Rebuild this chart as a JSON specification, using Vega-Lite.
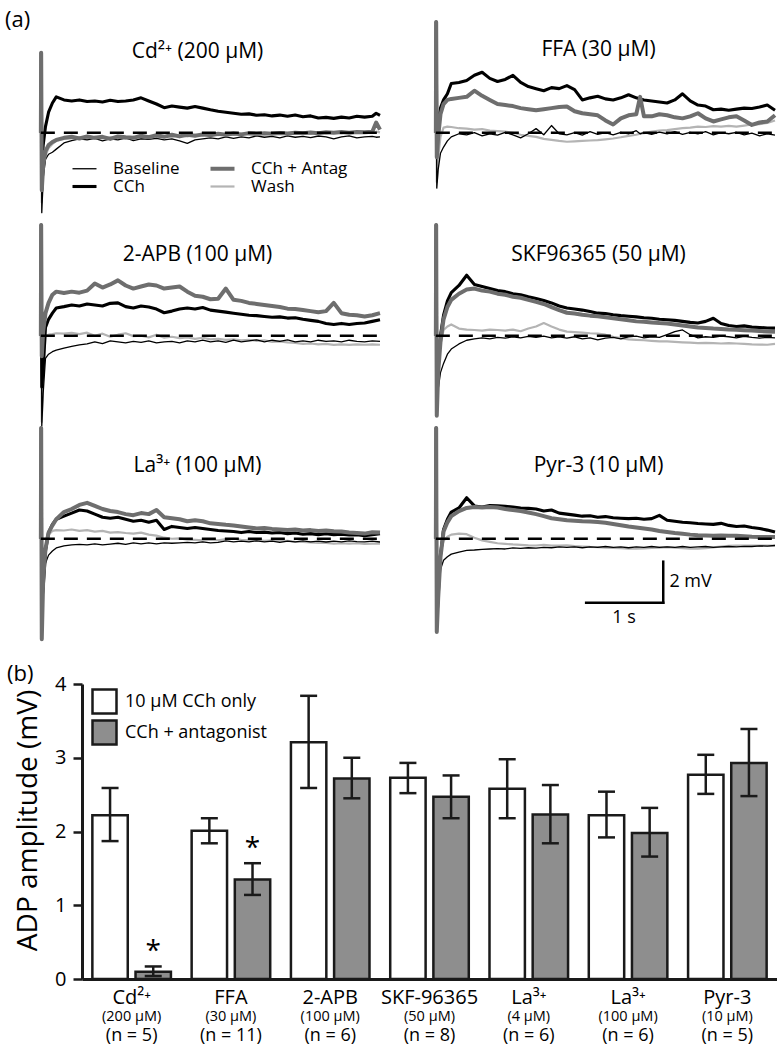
{
  "$schema": "https://vega.github.io/schema/vega-lite/v6.json",
  "padding": {"left": 0, "top": 9, "right": 0, "bottom": 0},
  "background": "white",
  "config": {
    "font": "Open Sans",
    "view": {"stroke": null},
    "title": {"font": "Open Sans", "fontWeight": "normal", "color": "#000"},
    "axis": {"labelFont": "Open Sans", "titleFont": "Open Sans", "labelColor": "#000", "titleColor": "#000"},
    "legend": {"labelFont": "Open Sans", "labelColor": "#000"},
    "text": {"font": "Open Sans", "color": "#000"}
  },
  "datasets": {
    "traces": [
      {"p":"Cd","t":0,"C":0,"B":0,"A":0,"W":0},
      {"p":"Cd","t":0.004,"C":3.9,"B":3.9,"A":3.9,"W":3.9},
      {"p":"Cd","t":0.012,"C":-1.8,"B":-3.9,"A":-2.8,"W":-3.4},
      {"p":"Cd","t":0.03,"C":-0.6,"B":-2.2,"A":-1.6,"W":-1.9},
      {"p":"Cd","t":0.06,"C":0.3,"B":-1.3,"A":-0.9,"W":-1.1},
      {"p":"Cd","t":0.1,"C":1.0,"B":-1.05,"A":-0.6,"W":-0.75},
      {"p":"Cd","t":0.15,"C":1.45,"B":-0.95,"A":-0.45,"W":-0.55},
      {"p":"Cd","t":0.2,"C":1.75,"B":-0.8,"A":-0.35,"W":-0.4},
      {"p":"Cd","t":0.3,"C":1.6,"B":-0.5,"A":-0.25,"W":-0.3},
      {"p":"Cd","t":0.4,"C":1.55,"B":-0.38,"A":-0.2,"W":-0.28},
      {"p":"Cd","t":0.5,"C":1.6,"B":-0.3,"A":-0.28,"W":-0.22},
      {"p":"Cd","t":0.6,"C":1.52,"B":-0.35,"A":-0.18,"W":-0.3},
      {"p":"Cd","t":0.7,"C":1.55,"B":-0.28,"A":-0.25,"W":-0.2},
      {"p":"Cd","t":0.8,"C":1.5,"B":-0.4,"A":-0.2,"W":-0.28},
      {"p":"Cd","t":0.9,"C":1.58,"B":-0.3,"A":-0.3,"W":-0.22},
      {"p":"Cd","t":1.0,"C":1.52,"B":-0.35,"A":-0.18,"W":-0.25},
      {"p":"Cd","t":1.1,"C":1.55,"B":-0.25,"A":-0.22,"W":-0.3},
      {"p":"Cd","t":1.2,"C":1.6,"B":-0.38,"A":-0.25,"W":-0.2},
      {"p":"Cd","t":1.3,"C":1.7,"B":-0.3,"A":-0.15,"W":-0.25},
      {"p":"Cd","t":1.4,"C":1.55,"B":-0.32,"A":-0.22,"W":-0.18},
      {"p":"Cd","t":1.5,"C":1.4,"B":-0.28,"A":-0.12,"W":-0.22},
      {"p":"Cd","t":1.6,"C":1.22,"B":-0.35,"A":-0.2,"W":-0.15},
      {"p":"Cd","t":1.7,"C":1.3,"B":-0.3,"A":-0.1,"W":-0.2},
      {"p":"Cd","t":1.8,"C":1.25,"B":-0.4,"A":-0.18,"W":-0.12},
      {"p":"Cd","t":1.9,"C":1.2,"B":-0.52,"A":-0.1,"W":-0.18},
      {"p":"Cd","t":2.0,"C":1.28,"B":-0.35,"A":-0.15,"W":-0.1},
      {"p":"Cd","t":2.1,"C":1.2,"B":-0.3,"A":-0.08,"W":-0.15},
      {"p":"Cd","t":2.2,"C":1.12,"B":-0.25,"A":-0.12,"W":-0.1},
      {"p":"Cd","t":2.3,"C":1.05,"B":-0.3,"A":-0.05,"W":-0.12},
      {"p":"Cd","t":2.4,"C":1.0,"B":-0.2,"A":-0.1,"W":-0.06},
      {"p":"Cd","t":2.5,"C":0.95,"B":-0.28,"A":-0.04,"W":-0.1},
      {"p":"Cd","t":2.6,"C":0.9,"B":-0.2,"A":-0.08,"W":-0.05},
      {"p":"Cd","t":2.7,"C":0.92,"B":-0.25,"A":-0.02,"W":-0.08},
      {"p":"Cd","t":2.8,"C":0.85,"B":-0.15,"A":-0.06,"W":-0.03},
      {"p":"Cd","t":2.9,"C":0.88,"B":-0.22,"A":-0.02,"W":-0.07},
      {"p":"Cd","t":3.0,"C":0.82,"B":-0.18,"A":-0.05,"W":-0.02},
      {"p":"Cd","t":3.1,"C":0.86,"B":-0.25,"A":-0.01,"W":-0.06},
      {"p":"Cd","t":3.2,"C":0.8,"B":-0.15,"A":-0.04,"W":-0.02},
      {"p":"Cd","t":3.3,"C":0.86,"B":-0.22,"A":0.0,"W":-0.05},
      {"p":"Cd","t":3.4,"C":0.78,"B":-0.18,"A":-0.03,"W":0.0},
      {"p":"Cd","t":3.5,"C":0.82,"B":-0.24,"A":0.01,"W":-0.04},
      {"p":"Cd","t":3.6,"C":0.72,"B":-0.16,"A":-0.02,"W":0.0},
      {"p":"Cd","t":3.7,"C":0.75,"B":-0.2,"A":0.02,"W":-0.03},
      {"p":"Cd","t":3.8,"C":0.7,"B":-0.3,"A":0.0,"W":0.01},
      {"p":"Cd","t":3.9,"C":0.76,"B":-0.2,"A":0.03,"W":-0.02},
      {"p":"Cd","t":4.0,"C":0.72,"B":-0.15,"A":0.0,"W":0.02},
      {"p":"Cd","t":4.1,"C":0.8,"B":-0.25,"A":0.04,"W":0.0},
      {"p":"Cd","t":4.2,"C":0.76,"B":-0.2,"A":0.02,"W":0.03},
      {"p":"Cd","t":4.3,"C":0.8,"B":-0.18,"A":0.05,"W":0.0},
      {"p":"Cd","t":4.35,"C":0.95,"B":-0.22,"A":0.5,"W":0.05},
      {"p":"Cd","t":4.4,"C":0.85,"B":-0.2,"A":0.15,"W":0.02},

      {"p":"FFA","t":0,"C":0,"B":0,"A":0,"W":0},
      {"p":"FFA","t":0.004,"C":5.4,"B":5.4,"A":5.4,"W":5.4},
      {"p":"FFA","t":0.012,"C":-0.8,"B":-2.7,"A":-1.2,"W":-2.4},
      {"p":"FFA","t":0.03,"C":0.2,"B":-1.8,"A":-0.2,"W":-1.2},
      {"p":"FFA","t":0.06,"C":1.2,"B":-1.0,"A":0.9,"W":-0.2},
      {"p":"FFA","t":0.1,"C":1.6,"B":-0.7,"A":1.4,"W":0.25},
      {"p":"FFA","t":0.15,"C":1.9,"B":-0.4,"A":1.6,"W":0.3},
      {"p":"FFA","t":0.2,"C":2.4,"B":-0.2,"A":1.65,"W":0.28},
      {"p":"FFA","t":0.3,"C":2.45,"B":-0.05,"A":1.7,"W":0.22},
      {"p":"FFA","t":0.4,"C":2.55,"B":-0.1,"A":1.75,"W":0.2},
      {"p":"FFA","t":0.5,"C":2.8,"B":0.0,"A":2.05,"W":0.15},
      {"p":"FFA","t":0.6,"C":2.95,"B":-0.15,"A":1.8,"W":0.18},
      {"p":"FFA","t":0.7,"C":2.65,"B":-0.05,"A":1.6,"W":0.1},
      {"p":"FFA","t":0.8,"C":2.5,"B":-0.12,"A":1.4,"W":0.08},
      {"p":"FFA","t":0.9,"C":2.6,"B":0.02,"A":1.35,"W":0.05},
      {"p":"FFA","t":1.0,"C":2.8,"B":-0.1,"A":1.3,"W":0.0},
      {"p":"FFA","t":1.1,"C":2.45,"B":-0.25,"A":1.2,"W":-0.1},
      {"p":"FFA","t":1.2,"C":2.25,"B":-0.05,"A":1.15,"W":-0.15},
      {"p":"FFA","t":1.3,"C":2.15,"B":0.2,"A":1.1,"W":-0.2},
      {"p":"FFA","t":1.4,"C":2.05,"B":-0.1,"A":1.15,"W":-0.3},
      {"p":"FFA","t":1.5,"C":2.2,"B":0.35,"A":1.2,"W":-0.35},
      {"p":"FFA","t":1.6,"C":2.15,"B":-0.05,"A":1.25,"W":-0.4},
      {"p":"FFA","t":1.7,"C":2.3,"B":-0.1,"A":1.28,"W":-0.44},
      {"p":"FFA","t":1.8,"C":2.1,"B":0.0,"A":1.05,"W":-0.42},
      {"p":"FFA","t":1.9,"C":1.6,"B":-0.12,"A":0.95,"W":-0.4},
      {"p":"FFA","t":2.0,"C":1.7,"B":0.05,"A":0.9,"W":-0.38},
      {"p":"FFA","t":2.1,"C":1.78,"B":-0.08,"A":0.85,"W":-0.36},
      {"p":"FFA","t":2.2,"C":1.65,"B":0.0,"A":0.6,"W":-0.32},
      {"p":"FFA","t":2.3,"C":1.6,"B":-0.1,"A":0.4,"W":-0.28},
      {"p":"FFA","t":2.4,"C":1.7,"B":0.02,"A":0.7,"W":-0.22},
      {"p":"FFA","t":2.5,"C":1.85,"B":-0.06,"A":0.85,"W":-0.15},
      {"p":"FFA","t":2.6,"C":1.7,"B":0.1,"A":0.9,"W":-0.1},
      {"p":"FFA","t":2.65,"C":1.65,"B":-0.05,"A":1.75,"W":-0.05},
      {"p":"FFA","t":2.7,"C":1.6,"B":0.0,"A":0.8,"W":-0.02},
      {"p":"FFA","t":2.8,"C":1.55,"B":-0.08,"A":0.8,"W":0.05},
      {"p":"FFA","t":2.9,"C":1.5,"B":0.03,"A":0.9,"W":0.1},
      {"p":"FFA","t":3.0,"C":1.45,"B":-0.05,"A":0.85,"W":0.13},
      {"p":"FFA","t":3.1,"C":1.6,"B":0.05,"A":0.75,"W":0.18},
      {"p":"FFA","t":3.2,"C":1.9,"B":-0.08,"A":0.7,"W":0.22},
      {"p":"FFA","t":3.3,"C":1.55,"B":0.02,"A":0.8,"W":0.25},
      {"p":"FFA","t":3.4,"C":1.35,"B":-0.06,"A":0.95,"W":0.3},
      {"p":"FFA","t":3.5,"C":1.3,"B":0.05,"A":0.7,"W":0.28},
      {"p":"FFA","t":3.6,"C":1.12,"B":-0.1,"A":0.55,"W":0.32},
      {"p":"FFA","t":3.7,"C":1.15,"B":0.0,"A":0.65,"W":0.3},
      {"p":"FFA","t":3.8,"C":1.1,"B":-0.05,"A":0.75,"W":0.33},
      {"p":"FFA","t":3.9,"C":1.15,"B":0.02,"A":0.8,"W":0.3},
      {"p":"FFA","t":4.0,"C":1.2,"B":-0.1,"A":0.6,"W":0.35},
      {"p":"FFA","t":4.1,"C":1.18,"B":-0.02,"A":0.38,"W":0.4},
      {"p":"FFA","t":4.2,"C":1.25,"B":-0.15,"A":0.5,"W":0.42},
      {"p":"FFA","t":4.3,"C":1.35,"B":-0.05,"A":0.55,"W":0.48},
      {"p":"FFA","t":4.4,"C":1.1,"B":-0.12,"A":0.85,"W":0.6},

      {"p":"APB","t":0,"C":0,"B":0,"A":0,"W":0},
      {"p":"APB","t":0.004,"C":5.4,"B":5.4,"A":5.4,"W":5.4},
      {"p":"APB","t":0.012,"C":-2.5,"B":-4.4,"A":-1.0,"W":-4.2},
      {"p":"APB","t":0.03,"C":-1.6,"B":-2.8,"A":0.2,"W":-1.8},
      {"p":"APB","t":0.06,"C":0.4,"B":-1.1,"A":1.1,"W":0.0},
      {"p":"APB","t":0.1,"C":0.8,"B":-0.9,"A":1.6,"W":0.05},
      {"p":"APB","t":0.15,"C":1.1,"B":-0.78,"A":2.0,"W":0.08},
      {"p":"APB","t":0.2,"C":1.35,"B":-0.7,"A":2.15,"W":0.12},
      {"p":"APB","t":0.3,"C":1.42,"B":-0.6,"A":2.08,"W":0.1},
      {"p":"APB","t":0.4,"C":1.5,"B":-0.52,"A":2.15,"W":0.14},
      {"p":"APB","t":0.5,"C":1.45,"B":-0.45,"A":2.1,"W":0.08},
      {"p":"APB","t":0.6,"C":1.55,"B":-0.4,"A":2.2,"W":0.15},
      {"p":"APB","t":0.7,"C":1.5,"B":-0.3,"A":2.55,"W":0.0},
      {"p":"APB","t":0.8,"C":1.45,"B":-0.38,"A":2.35,"W":0.1},
      {"p":"APB","t":0.9,"C":1.58,"B":-0.25,"A":2.5,"W":-0.05},
      {"p":"APB","t":1.0,"C":1.6,"B":-0.3,"A":2.7,"W":0.05},
      {"p":"APB","t":1.1,"C":1.42,"B":-0.35,"A":2.45,"W":0.12},
      {"p":"APB","t":1.2,"C":1.35,"B":-0.28,"A":2.3,"W":-0.02},
      {"p":"APB","t":1.3,"C":1.45,"B":-0.32,"A":2.4,"W":0.0},
      {"p":"APB","t":1.4,"C":1.4,"B":-0.25,"A":2.5,"W":-0.08},
      {"p":"APB","t":1.5,"C":1.3,"B":-0.35,"A":2.45,"W":0.05},
      {"p":"APB","t":1.6,"C":1.12,"B":-0.3,"A":2.3,"W":-0.1},
      {"p":"APB","t":1.7,"C":1.2,"B":-0.28,"A":2.35,"W":-0.05},
      {"p":"APB","t":1.8,"C":1.3,"B":-0.35,"A":2.4,"W":-0.12},
      {"p":"APB","t":1.9,"C":1.35,"B":-0.25,"A":2.15,"W":-0.08},
      {"p":"APB","t":2.0,"C":1.3,"B":-0.3,"A":1.95,"W":-0.15},
      {"p":"APB","t":2.1,"C":1.38,"B":-0.22,"A":1.9,"W":-0.1},
      {"p":"APB","t":2.2,"C":1.25,"B":-0.3,"A":1.78,"W":-0.18},
      {"p":"APB","t":2.3,"C":1.2,"B":-0.25,"A":1.8,"W":-0.15},
      {"p":"APB","t":2.4,"C":1.15,"B":-0.32,"A":2.3,"W":-0.2},
      {"p":"APB","t":2.5,"C":1.1,"B":-0.22,"A":1.75,"W":-0.18},
      {"p":"APB","t":2.6,"C":1.05,"B":-0.3,"A":1.7,"W":-0.22},
      {"p":"APB","t":2.7,"C":1.0,"B":-0.25,"A":1.6,"W":-0.2},
      {"p":"APB","t":2.8,"C":0.98,"B":-0.2,"A":1.55,"W":-0.25},
      {"p":"APB","t":2.9,"C":0.94,"B":-0.3,"A":1.5,"W":-0.22},
      {"p":"APB","t":3.0,"C":0.9,"B":-0.22,"A":1.45,"W":-0.3},
      {"p":"APB","t":3.1,"C":0.92,"B":-0.28,"A":1.4,"W":-0.28},
      {"p":"APB","t":3.2,"C":0.86,"B":-0.2,"A":1.32,"W":-0.32},
      {"p":"APB","t":3.3,"C":0.88,"B":-0.3,"A":1.3,"W":-0.35},
      {"p":"APB","t":3.4,"C":0.8,"B":-0.25,"A":1.25,"W":-0.4},
      {"p":"APB","t":3.5,"C":0.75,"B":-0.3,"A":1.2,"W":-0.38},
      {"p":"APB","t":3.6,"C":0.7,"B":-0.22,"A":1.15,"W":-0.42},
      {"p":"APB","t":3.7,"C":0.6,"B":-0.28,"A":1.2,"W":-0.4},
      {"p":"APB","t":3.8,"C":0.55,"B":-0.25,"A":1.6,"W":-0.45},
      {"p":"APB","t":3.9,"C":0.6,"B":-0.3,"A":1.1,"W":-0.42},
      {"p":"APB","t":4.0,"C":0.55,"B":-0.22,"A":1.02,"W":-0.45},
      {"p":"APB","t":4.1,"C":0.6,"B":-0.28,"A":1.0,"W":-0.42},
      {"p":"APB","t":4.2,"C":0.62,"B":-0.3,"A":0.94,"W":-0.44},
      {"p":"APB","t":4.3,"C":0.7,"B":-0.25,"A":1.0,"W":-0.42},
      {"p":"APB","t":4.4,"C":0.78,"B":-0.28,"A":1.1,"W":-0.44},

      {"p":"SKF","t":0,"C":0,"B":0,"A":0,"W":0},
      {"p":"SKF","t":0.004,"C":5.4,"B":5.4,"A":5.4,"W":5.4},
      {"p":"SKF","t":0.012,"C":-3.0,"B":-3.9,"A":-3.9,"W":-3.5},
      {"p":"SKF","t":0.03,"C":-1.5,"B":-2.6,"A":-1.8,"W":-1.6},
      {"p":"SKF","t":0.06,"C":0.0,"B":-1.8,"A":-0.3,"W":-0.4},
      {"p":"SKF","t":0.1,"C":1.0,"B":-1.35,"A":0.8,"W":0.28},
      {"p":"SKF","t":0.15,"C":1.7,"B":-0.9,"A":1.4,"W":0.45},
      {"p":"SKF","t":0.2,"C":2.1,"B":-0.65,"A":1.75,"W":0.55},
      {"p":"SKF","t":0.3,"C":2.45,"B":-0.4,"A":2.05,"W":0.35},
      {"p":"SKF","t":0.4,"C":2.95,"B":-0.22,"A":2.25,"W":0.3},
      {"p":"SKF","t":0.5,"C":2.5,"B":-0.15,"A":2.3,"W":0.28},
      {"p":"SKF","t":0.6,"C":2.4,"B":-0.1,"A":2.2,"W":0.25},
      {"p":"SKF","t":0.7,"C":2.3,"B":-0.15,"A":2.15,"W":0.3},
      {"p":"SKF","t":0.8,"C":2.2,"B":-0.08,"A":2.05,"W":0.28},
      {"p":"SKF","t":0.9,"C":2.15,"B":-0.12,"A":2.0,"W":0.25},
      {"p":"SKF","t":1.0,"C":2.05,"B":-0.05,"A":1.9,"W":0.3},
      {"p":"SKF","t":1.1,"C":2.0,"B":-0.1,"A":1.85,"W":0.22},
      {"p":"SKF","t":1.2,"C":1.9,"B":-0.03,"A":1.75,"W":0.35},
      {"p":"SKF","t":1.3,"C":1.82,"B":-0.08,"A":1.65,"W":0.45},
      {"p":"SKF","t":1.4,"C":1.72,"B":-0.02,"A":1.55,"W":0.62},
      {"p":"SKF","t":1.5,"C":1.6,"B":-0.1,"A":1.4,"W":0.45},
      {"p":"SKF","t":1.6,"C":1.45,"B":-0.06,"A":1.25,"W":0.3},
      {"p":"SKF","t":1.7,"C":1.35,"B":-0.12,"A":1.12,"W":0.2},
      {"p":"SKF","t":1.8,"C":1.3,"B":-0.05,"A":1.08,"W":0.18},
      {"p":"SKF","t":1.9,"C":1.25,"B":-0.15,"A":1.02,"W":0.15},
      {"p":"SKF","t":2.0,"C":1.18,"B":-0.1,"A":0.98,"W":0.12},
      {"p":"SKF","t":2.1,"C":1.1,"B":-0.2,"A":0.95,"W":0.1},
      {"p":"SKF","t":2.2,"C":1.08,"B":-0.12,"A":0.9,"W":0.05},
      {"p":"SKF","t":2.3,"C":1.02,"B":-0.08,"A":0.85,"W":-0.05},
      {"p":"SKF","t":2.4,"C":0.98,"B":-0.15,"A":0.8,"W":-0.12},
      {"p":"SKF","t":2.5,"C":0.95,"B":-0.05,"A":0.75,"W":-0.18},
      {"p":"SKF","t":2.6,"C":0.92,"B":-0.02,"A":0.7,"W":-0.2},
      {"p":"SKF","t":2.7,"C":0.88,"B":-0.1,"A":0.68,"W":-0.22},
      {"p":"SKF","t":2.8,"C":0.85,"B":-0.05,"A":0.65,"W":-0.25},
      {"p":"SKF","t":2.9,"C":0.8,"B":-0.08,"A":0.62,"W":-0.28},
      {"p":"SKF","t":3.0,"C":0.78,"B":0.05,"A":0.6,"W":-0.28},
      {"p":"SKF","t":3.1,"C":0.75,"B":0.2,"A":0.55,"W":-0.3},
      {"p":"SKF","t":3.2,"C":0.7,"B":0.28,"A":0.5,"W":-0.32},
      {"p":"SKF","t":3.3,"C":0.65,"B":0.05,"A":0.45,"W":-0.34},
      {"p":"SKF","t":3.4,"C":0.62,"B":-0.1,"A":0.4,"W":-0.36},
      {"p":"SKF","t":3.5,"C":0.7,"B":-0.05,"A":0.38,"W":-0.35},
      {"p":"SKF","t":3.6,"C":0.85,"B":-0.08,"A":0.35,"W":-0.36},
      {"p":"SKF","t":3.7,"C":0.6,"B":-0.02,"A":0.33,"W":-0.38},
      {"p":"SKF","t":3.8,"C":0.5,"B":-0.05,"A":0.3,"W":-0.36},
      {"p":"SKF","t":3.9,"C":0.45,"B":-0.1,"A":0.29,"W":-0.38},
      {"p":"SKF","t":4.0,"C":0.48,"B":-0.03,"A":0.27,"W":-0.4},
      {"p":"SKF","t":4.1,"C":0.42,"B":-0.08,"A":0.25,"W":-0.42},
      {"p":"SKF","t":4.2,"C":0.4,"B":-0.12,"A":0.23,"W":-0.43},
      {"p":"SKF","t":4.3,"C":0.38,"B":-0.08,"A":0.21,"W":-0.44},
      {"p":"SKF","t":4.4,"C":0.37,"B":-0.1,"A":0.2,"W":-0.4},

      {"p":"La","t":0,"C":0,"B":0,"A":0,"W":0},
      {"p":"La","t":0.004,"C":5.4,"B":5.4,"A":5.4,"W":5.4},
      {"p":"La","t":0.012,"C":-3.0,"B":-3.3,"A":-4.9,"W":-3.2},
      {"p":"La","t":0.03,"C":-2.4,"B":-2.2,"A":-2.0,"W":-1.8},
      {"p":"La","t":0.06,"C":-0.6,"B":-1.2,"A":-0.5,"W":-0.4},
      {"p":"La","t":0.1,"C":0.3,"B":-0.8,"A":0.3,"W":0.2},
      {"p":"La","t":0.15,"C":0.7,"B":-0.6,"A":0.65,"W":0.38},
      {"p":"La","t":0.2,"C":0.95,"B":-0.45,"A":0.95,"W":0.42},
      {"p":"La","t":0.3,"C":1.1,"B":-0.35,"A":1.3,"W":0.4},
      {"p":"La","t":0.4,"C":1.25,"B":-0.3,"A":1.45,"W":0.45},
      {"p":"La","t":0.5,"C":1.4,"B":-0.28,"A":1.65,"W":0.38},
      {"p":"La","t":0.6,"C":1.35,"B":-0.3,"A":1.75,"W":0.42},
      {"p":"La","t":0.7,"C":1.2,"B":-0.25,"A":1.6,"W":0.35},
      {"p":"La","t":0.8,"C":1.05,"B":-0.3,"A":1.45,"W":0.38},
      {"p":"La","t":0.9,"C":1.0,"B":-0.26,"A":1.35,"W":0.3},
      {"p":"La","t":1.0,"C":1.05,"B":-0.22,"A":1.3,"W":0.32},
      {"p":"La","t":1.1,"C":0.95,"B":-0.28,"A":1.2,"W":0.28},
      {"p":"La","t":1.2,"C":0.85,"B":-0.2,"A":1.15,"W":0.25},
      {"p":"La","t":1.3,"C":0.9,"B":-0.25,"A":1.25,"W":0.3},
      {"p":"La","t":1.4,"C":0.8,"B":-0.2,"A":1.2,"W":0.2},
      {"p":"La","t":1.5,"C":0.9,"B":-0.25,"A":1.4,"W":0.15},
      {"p":"La","t":1.6,"C":0.45,"B":-0.2,"A":1.05,"W":0.05},
      {"p":"La","t":1.7,"C":0.6,"B":-0.22,"A":1.0,"W":0.0},
      {"p":"La","t":1.8,"C":0.55,"B":-0.2,"A":0.95,"W":0.02},
      {"p":"La","t":1.9,"C":0.5,"B":-0.18,"A":0.85,"W":-0.04},
      {"p":"La","t":2.0,"C":0.55,"B":-0.2,"A":0.9,"W":-0.06},
      {"p":"La","t":2.1,"C":0.5,"B":-0.15,"A":0.85,"W":-0.08},
      {"p":"La","t":2.2,"C":0.45,"B":-0.2,"A":0.75,"W":-0.05},
      {"p":"La","t":2.3,"C":0.4,"B":-0.18,"A":0.72,"W":-0.08},
      {"p":"La","t":2.4,"C":0.38,"B":-0.1,"A":0.68,"W":-0.02},
      {"p":"La","t":2.5,"C":0.35,"B":-0.15,"A":0.65,"W":0.0},
      {"p":"La","t":2.6,"C":0.3,"B":-0.12,"A":0.6,"W":-0.05},
      {"p":"La","t":2.7,"C":0.35,"B":-0.15,"A":0.55,"W":-0.08},
      {"p":"La","t":2.8,"C":0.3,"B":-0.1,"A":0.5,"W":-0.06},
      {"p":"La","t":2.9,"C":0.32,"B":-0.15,"A":0.52,"W":-0.1},
      {"p":"La","t":3.0,"C":0.28,"B":-0.12,"A":0.48,"W":-0.08},
      {"p":"La","t":3.1,"C":0.3,"B":-0.18,"A":0.45,"W":-0.12},
      {"p":"La","t":3.2,"C":0.25,"B":-0.12,"A":0.42,"W":-0.1},
      {"p":"La","t":3.3,"C":0.28,"B":-0.15,"A":0.45,"W":-0.15},
      {"p":"La","t":3.4,"C":0.22,"B":-0.1,"A":0.4,"W":-0.16},
      {"p":"La","t":3.5,"C":0.25,"B":-0.15,"A":0.42,"W":-0.18},
      {"p":"La","t":3.6,"C":0.2,"B":-0.12,"A":0.38,"W":-0.2},
      {"p":"La","t":3.7,"C":0.24,"B":-0.16,"A":0.4,"W":-0.2},
      {"p":"La","t":3.8,"C":0.2,"B":-0.12,"A":0.36,"W":-0.24},
      {"p":"La","t":3.9,"C":0.22,"B":-0.15,"A":0.35,"W":-0.22},
      {"p":"La","t":4.0,"C":0.18,"B":-0.1,"A":0.3,"W":-0.24},
      {"p":"La","t":4.1,"C":0.2,"B":-0.14,"A":0.28,"W":-0.22},
      {"p":"La","t":4.2,"C":0.15,"B":-0.15,"A":0.25,"W":-0.25},
      {"p":"La","t":4.3,"C":0.2,"B":-0.12,"A":0.32,"W":-0.24},
      {"p":"La","t":4.4,"C":0.24,"B":-0.16,"A":0.3,"W":-0.24},

      {"p":"Pyr","t":0,"C":0,"B":0,"A":0,"W":0},
      {"p":"Pyr","t":0.004,"C":5.4,"B":5.4,"A":5.4,"W":5.4},
      {"p":"Pyr","t":0.012,"C":-4.0,"B":-4.3,"A":-4.55,"W":-4.2},
      {"p":"Pyr","t":0.03,"C":-2.8,"B":-2.9,"A":-2.9,"W":-2.6},
      {"p":"Pyr","t":0.06,"C":-0.8,"B":-1.5,"A":-0.9,"W":-0.7},
      {"p":"Pyr","t":0.1,"C":0.45,"B":-1.05,"A":0.35,"W":-0.1},
      {"p":"Pyr","t":0.15,"C":0.95,"B":-0.88,"A":0.8,"W":0.1},
      {"p":"Pyr","t":0.2,"C":1.3,"B":-0.75,"A":1.1,"W":0.2},
      {"p":"Pyr","t":0.3,"C":1.5,"B":-0.65,"A":1.35,"W":0.25},
      {"p":"Pyr","t":0.4,"C":2.0,"B":-0.57,"A":1.5,"W":0.22},
      {"p":"Pyr","t":0.5,"C":1.6,"B":-0.55,"A":1.55,"W":0.05},
      {"p":"Pyr","t":0.6,"C":1.55,"B":-0.52,"A":1.52,"W":-0.08},
      {"p":"Pyr","t":0.7,"C":1.62,"B":-0.5,"A":1.55,"W":-0.15},
      {"p":"Pyr","t":0.8,"C":1.6,"B":-0.48,"A":1.52,"W":-0.22},
      {"p":"Pyr","t":0.9,"C":1.58,"B":-0.5,"A":1.45,"W":-0.25},
      {"p":"Pyr","t":1.0,"C":1.55,"B":-0.45,"A":1.4,"W":-0.28},
      {"p":"Pyr","t":1.1,"C":1.5,"B":-0.47,"A":1.35,"W":-0.3},
      {"p":"Pyr","t":1.2,"C":1.48,"B":-0.44,"A":1.28,"W":-0.32},
      {"p":"Pyr","t":1.3,"C":1.45,"B":-0.46,"A":1.2,"W":-0.33},
      {"p":"Pyr","t":1.4,"C":1.35,"B":-0.42,"A":1.1,"W":-0.3},
      {"p":"Pyr","t":1.5,"C":1.4,"B":-0.44,"A":1.0,"W":-0.34},
      {"p":"Pyr","t":1.6,"C":1.25,"B":-0.4,"A":0.95,"W":-0.33},
      {"p":"Pyr","t":1.7,"C":1.2,"B":-0.42,"A":0.9,"W":-0.32},
      {"p":"Pyr","t":1.8,"C":1.15,"B":-0.4,"A":0.88,"W":-0.36},
      {"p":"Pyr","t":1.9,"C":1.1,"B":-0.44,"A":0.85,"W":-0.38},
      {"p":"Pyr","t":2.0,"C":1.12,"B":-0.4,"A":0.84,"W":-0.4},
      {"p":"Pyr","t":2.1,"C":1.05,"B":-0.42,"A":0.82,"W":-0.41},
      {"p":"Pyr","t":2.2,"C":1.08,"B":-0.38,"A":0.78,"W":-0.43},
      {"p":"Pyr","t":2.3,"C":1.02,"B":-0.42,"A":0.72,"W":-0.45},
      {"p":"Pyr","t":2.4,"C":1.0,"B":-0.4,"A":0.66,"W":-0.46},
      {"p":"Pyr","t":2.5,"C":0.98,"B":-0.44,"A":0.6,"W":-0.48},
      {"p":"Pyr","t":2.6,"C":1.0,"B":-0.4,"A":0.55,"W":-0.49},
      {"p":"Pyr","t":2.7,"C":0.95,"B":-0.42,"A":0.5,"W":-0.47},
      {"p":"Pyr","t":2.8,"C":0.98,"B":-0.38,"A":0.45,"W":-0.45},
      {"p":"Pyr","t":2.9,"C":1.14,"B":-0.42,"A":0.38,"W":-0.43},
      {"p":"Pyr","t":3.0,"C":0.9,"B":-0.4,"A":0.33,"W":-0.41},
      {"p":"Pyr","t":3.1,"C":0.85,"B":-0.42,"A":0.28,"W":-0.44},
      {"p":"Pyr","t":3.2,"C":0.8,"B":-0.38,"A":0.24,"W":-0.46},
      {"p":"Pyr","t":3.3,"C":0.78,"B":-0.42,"A":0.2,"W":-0.48},
      {"p":"Pyr","t":3.4,"C":0.74,"B":-0.4,"A":0.17,"W":-0.49},
      {"p":"Pyr","t":3.5,"C":0.72,"B":-0.38,"A":0.16,"W":-0.46},
      {"p":"Pyr","t":3.6,"C":0.7,"B":-0.42,"A":0.15,"W":-0.42},
      {"p":"Pyr","t":3.7,"C":0.75,"B":-0.4,"A":0.16,"W":-0.38},
      {"p":"Pyr","t":3.8,"C":0.65,"B":-0.38,"A":0.15,"W":-0.35},
      {"p":"Pyr","t":3.9,"C":0.6,"B":-0.4,"A":0.14,"W":-0.33},
      {"p":"Pyr","t":4.0,"C":0.62,"B":-0.37,"A":0.12,"W":-0.34},
      {"p":"Pyr","t":4.1,"C":0.55,"B":-0.38,"A":0.1,"W":-0.33},
      {"p":"Pyr","t":4.2,"C":0.5,"B":-0.35,"A":0.09,"W":-0.34},
      {"p":"Pyr","t":4.3,"C":0.42,"B":-0.36,"A":0.08,"W":-0.33},
      {"p":"Pyr","t":4.4,"C":0.33,"B":-0.33,"A":0.08,"W":-0.33}
    ],
    "scalebar": [
      {"t": 1.95, "t2": 2.95, "v": -3.12, "v2": -3.12},
      {"t": 2.95, "t2": 2.95, "v": -1.12, "v2": -3.12}
    ],
    "scalelabels": [
      {"t": 3.03, "v": -2.12, "label": "2 mV"},
      {"t": 2.44, "v": -3.42, "label": "1 s"}
    ],
    "bars": [
      {"g": "Cd²⁺|(200 µM)|(n = 5)", "s": "10 µM CCh only", "m": 2.22, "lo": 1.87, "hi": 2.59, "sig": ""},
      {"g": "Cd²⁺|(200 µM)|(n = 5)", "s": "CCh + antagonist", "m": 0.1, "lo": 0.04, "hi": 0.17, "sig": "*"},
      {"g": "FFA|(30 µM)|(n = 11)", "s": "10 µM CCh only", "m": 2.01, "lo": 1.84, "hi": 2.18, "sig": ""},
      {"g": "FFA|(30 µM)|(n = 11)", "s": "CCh + antagonist", "m": 1.35, "lo": 1.14, "hi": 1.57, "sig": "*"},
      {"g": "2-APB|(100 µM)|(n = 6)", "s": "10 µM CCh only", "m": 3.21, "lo": 2.59, "hi": 3.84, "sig": ""},
      {"g": "2-APB|(100 µM)|(n = 6)", "s": "CCh + antagonist", "m": 2.72, "lo": 2.45, "hi": 3.0, "sig": ""},
      {"g": "SKF-96365|(50 µM)|(n = 8)", "s": "10 µM CCh only", "m": 2.73, "lo": 2.52, "hi": 2.93, "sig": ""},
      {"g": "SKF-96365|(50 µM)|(n = 8)", "s": "CCh + antagonist", "m": 2.47, "lo": 2.18, "hi": 2.76, "sig": ""},
      {"g": "La³⁺|(4 µM)|(n = 6)", "s": "10 µM CCh only", "m": 2.58, "lo": 2.18, "hi": 2.98, "sig": ""},
      {"g": "La³⁺|(4 µM)|(n = 6)", "s": "CCh + antagonist", "m": 2.23, "lo": 1.84, "hi": 2.63, "sig": ""},
      {"g": "La³⁺|(100 µM)|(n = 6)", "s": "10 µM CCh only", "m": 2.22, "lo": 1.92, "hi": 2.54, "sig": ""},
      {"g": "La³⁺|(100 µM)|(n = 6)", "s": "CCh + antagonist", "m": 1.98, "lo": 1.66, "hi": 2.32, "sig": ""},
      {"g": "Pyr-3|(10 µM)|(n = 5)", "s": "10 µM CCh only", "m": 2.77, "lo": 2.51, "hi": 3.04, "sig": ""},
      {"g": "Pyr-3|(10 µM)|(n = 5)", "s": "CCh + antagonist", "m": 2.93, "lo": 2.48, "hi": 3.39, "sig": ""}
    ]
  },
  "resolve": {"scale": {"color": "independent", "strokeWidth": "independent"}},
  "spacing": 21,
  "vconcat": [
    {
      "spacing": 0,
      "hconcat": [
        {
          "width": 37, "height": 1,
          "data": {"values": []},
          "mark": "point",
          "title": {"text": "(a)", "anchor": "start", "fontSize": 22, "baseline": "alphabetic", "offset": -27, "dx": 5}
        },
        {
          "columns": 2,
          "spacing": {"row": 0, "column": 52},
          "bounds": "flush",
          "resolve": {"scale": {"color": "independent", "strokeWidth": "independent"}},
          "concat": [
            {
              "width": 343, "height": 203,
              "title": {"text": "Cd²⁺ (200 µM)", "fontSize": 21, "baseline": "alphabetic", "offset": -57, "dx": -11},
              "layer": [
                {
                  "data": {"name": "traces"},
                  "transform": [{"filter": "datum.p === 'Cd'"}, {"fold": ["W", "B", "C", "A"], "as": ["k", "v"]}],
                  "mark": {"type": "line", "strokeJoin": "round"},
                  "encoding": {
                    "x": {"field": "t", "type": "quantitative", "scale": {"domain": [-0.05, 4.4], "nice": false, "zero": false}, "axis": null},
                    "y": {"field": "v", "type": "quantitative", "scale": {"domain": [-4.5, 5.4], "nice": false, "zero": false}, "axis": null},
                    "color": {"field": "k", "type": "nominal", "scale": {"domain": ["B", "C", "A", "W"], "range": ["#000000", "#000000", "#6e6e6e", "#b4b4b4"]},
                      "legend": {"orient": "none", "legendX": 39, "legendY": 138, "columns": 2, "title": null, "symbolType": "stroke", "symbolSize": 576, "labelOffset": 20, "columnPadding": 22, "rowPadding": 0, "labelFontSize": 17, "padding": 0,
                        "labelExpr": "datum.label == 'B' ? 'Baseline' : datum.label == 'C' ? 'CCh' : datum.label == 'A' ? 'CCh + Antag' : 'Wash'",
                        "encode": {"symbols": {"update": {"strokeWidth": {"signal": "datum.value == 'B' ? 1.3 : datum.value == 'C' ? 3.1 : datum.value == 'A' ? 4 : 2.2"}}}}}},
                    "strokeWidth": {"field": "k", "type": "nominal", "scale": {"type": "point", "padding": 0, "domain": ["B", "W", "C", "A"], "range": [1.3, 4]}, "legend": null}
                  }
                },
                {
                  "data": {"values": [{}]},
                  "mark": {"type": "rule", "strokeDash": [14, 9], "strokeWidth": 2.6, "color": "#000"},
                  "encoding": {"x": {"datum": 0}, "x2": {"datum": 4.4}, "y": {"datum": 0}}
                }
              ]
            },
            {
              "width": 343, "height": 203,
              "title": {"text": "FFA (30 µM)", "fontSize": 21, "baseline": "alphabetic", "offset": -57, "dx": -5},
              "layer": [
                {
                  "data": {"name": "traces"},
                  "transform": [{"filter": "datum.p === 'FFA'"}, {"fold": ["W", "B", "C", "A"], "as": ["k", "v"]}],
                  "mark": {"type": "line", "strokeJoin": "round"},
                  "encoding": {
                    "x": {"field": "t", "type": "quantitative", "scale": {"domain": [-0.05, 4.4], "nice": false, "zero": false}, "axis": null},
                    "y": {"field": "v", "type": "quantitative", "scale": {"domain": [-4.5, 5.4], "nice": false, "zero": false}, "axis": null},
                    "color": {"field": "k", "type": "nominal", "scale": {"domain": ["B", "C", "A", "W"], "range": ["#000000", "#000000", "#6e6e6e", "#b4b4b4"]}, "legend": null},
                    "strokeWidth": {"field": "k", "type": "nominal", "scale": {"type": "point", "padding": 0, "domain": ["B", "W", "C", "A"], "range": [1.3, 4]}, "legend": null}
                  }
                },
                {
                  "data": {"values": [{}]},
                  "mark": {"type": "rule", "strokeDash": [14, 9], "strokeWidth": 2.6, "color": "#000"},
                  "encoding": {"x": {"datum": 0}, "x2": {"datum": 4.4}, "y": {"datum": 0}}
                }
              ]
            },
            {
              "width": 343, "height": 203,
              "title": {"text": "2-APB (100 µM)", "fontSize": 21, "baseline": "alphabetic", "offset": -59, "dx": -11},
              "layer": [
                {
                  "data": {"name": "traces"},
                  "transform": [{"filter": "datum.p === 'APB'"}, {"fold": ["W", "B", "C", "A"], "as": ["k", "v"]}],
                  "mark": {"type": "line", "strokeJoin": "round"},
                  "encoding": {
                    "x": {"field": "t", "type": "quantitative", "scale": {"domain": [-0.05, 4.4], "nice": false, "zero": false}, "axis": null},
                    "y": {"field": "v", "type": "quantitative", "scale": {"domain": [-4.5, 5.4], "nice": false, "zero": false}, "axis": null},
                    "color": {"field": "k", "type": "nominal", "scale": {"domain": ["B", "C", "A", "W"], "range": ["#000000", "#000000", "#6e6e6e", "#b4b4b4"]}, "legend": null},
                    "strokeWidth": {"field": "k", "type": "nominal", "scale": {"type": "point", "padding": 0, "domain": ["B", "W", "C", "A"], "range": [1.3, 4]}, "legend": null}
                  }
                },
                {
                  "data": {"values": [{}]},
                  "mark": {"type": "rule", "strokeDash": [14, 9], "strokeWidth": 2.6, "color": "#000"},
                  "encoding": {"x": {"datum": 0}, "x2": {"datum": 4.4}, "y": {"datum": 0}}
                }
              ]
            },
            {
              "width": 343, "height": 203,
              "title": {"text": "SKF96365 (50 µM)", "fontSize": 21, "baseline": "alphabetic", "offset": -59, "dx": -5},
              "layer": [
                {
                  "data": {"name": "traces"},
                  "transform": [{"filter": "datum.p === 'SKF'"}, {"fold": ["W", "B", "C", "A"], "as": ["k", "v"]}],
                  "mark": {"type": "line", "strokeJoin": "round"},
                  "encoding": {
                    "x": {"field": "t", "type": "quantitative", "scale": {"domain": [-0.05, 4.4], "nice": false, "zero": false}, "axis": null},
                    "y": {"field": "v", "type": "quantitative", "scale": {"domain": [-4.5, 5.4], "nice": false, "zero": false}, "axis": null},
                    "color": {"field": "k", "type": "nominal", "scale": {"domain": ["B", "C", "A", "W"], "range": ["#000000", "#000000", "#6e6e6e", "#b4b4b4"]}, "legend": null},
                    "strokeWidth": {"field": "k", "type": "nominal", "scale": {"type": "point", "padding": 0, "domain": ["B", "W", "C", "A"], "range": [1.3, 4]}, "legend": null}
                  }
                },
                {
                  "data": {"values": [{}]},
                  "mark": {"type": "rule", "strokeDash": [14, 9], "strokeWidth": 2.6, "color": "#000"},
                  "encoding": {"x": {"datum": 0}, "x2": {"datum": 4.4}, "y": {"datum": 0}}
                }
              ]
            },
            {
              "width": 343, "height": 203,
              "title": {"text": "La³⁺ (100 µM)", "fontSize": 21, "baseline": "alphabetic", "offset": -67, "dx": -11},
              "layer": [
                {
                  "data": {"name": "traces"},
                  "transform": [{"filter": "datum.p === 'La'"}, {"fold": ["W", "B", "C", "A"], "as": ["k", "v"]}],
                  "mark": {"type": "line", "strokeJoin": "round"},
                  "encoding": {
                    "x": {"field": "t", "type": "quantitative", "scale": {"domain": [-0.05, 4.4], "nice": false, "zero": false}, "axis": null},
                    "y": {"field": "v", "type": "quantitative", "scale": {"domain": [-4.5, 5.4], "nice": false, "zero": false}, "axis": null},
                    "color": {"field": "k", "type": "nominal", "scale": {"domain": ["B", "C", "A", "W"], "range": ["#000000", "#000000", "#6e6e6e", "#b4b4b4"]}, "legend": null},
                    "strokeWidth": {"field": "k", "type": "nominal", "scale": {"type": "point", "padding": 0, "domain": ["B", "W", "C", "A"], "range": [1.3, 4]}, "legend": null}
                  }
                },
                {
                  "data": {"values": [{}]},
                  "mark": {"type": "rule", "strokeDash": [14, 9], "strokeWidth": 2.6, "color": "#000"},
                  "encoding": {"x": {"datum": 0}, "x2": {"datum": 4.4}, "y": {"datum": 0}}
                }
              ]
            },
            {
              "width": 343, "height": 203,
              "title": {"text": "Pyr-3 (10 µM)", "fontSize": 21, "baseline": "alphabetic", "offset": -67, "dx": -5},
              "layer": [
                {
                  "data": {"name": "traces"},
                  "transform": [{"filter": "datum.p === 'Pyr'"}, {"fold": ["W", "B", "C", "A"], "as": ["k", "v"]}],
                  "mark": {"type": "line", "strokeJoin": "round"},
                  "encoding": {
                    "x": {"field": "t", "type": "quantitative", "scale": {"domain": [-0.05, 4.4], "nice": false, "zero": false}, "axis": null},
                    "y": {"field": "v", "type": "quantitative", "scale": {"domain": [-4.5, 5.4], "nice": false, "zero": false}, "axis": null},
                    "color": {"field": "k", "type": "nominal", "scale": {"domain": ["B", "C", "A", "W"], "range": ["#000000", "#000000", "#6e6e6e", "#b4b4b4"]}, "legend": null},
                    "strokeWidth": {"field": "k", "type": "nominal", "scale": {"type": "point", "padding": 0, "domain": ["B", "W", "C", "A"], "range": [1.3, 4]}, "legend": null}
                  }
                },
                {
                  "data": {"values": [{}]},
                  "mark": {"type": "rule", "strokeDash": [14, 9], "strokeWidth": 2.6, "color": "#000"},
                  "encoding": {"x": {"datum": 0}, "x2": {"datum": 4.4}, "y": {"datum": 0}}
                },
                {
                  "data": {"name": "scalebar"},
                  "mark": {"type": "rule", "strokeWidth": 2.5, "color": "#000", "strokeCap": "square"},
                  "encoding": {
                    "x": {"field": "t", "type": "quantitative"}, "x2": {"field": "t2"},
                    "y": {"field": "v", "type": "quantitative"}, "y2": {"field": "v2"}
                  }
                },
                {
                  "data": {"name": "scalelabels"},
                  "transform": [{"filter": "datum.label === '2 mV'"}],
                  "mark": {"type": "text", "align": "left", "baseline": "middle", "fontSize": 18},
                  "encoding": {"x": {"field": "t", "type": "quantitative"}, "y": {"field": "v", "type": "quantitative"}, "text": {"field": "label"}}
                },
                {
                  "data": {"name": "scalelabels"},
                  "transform": [{"filter": "datum.label === '1 s'"}],
                  "mark": {"type": "text", "align": "center", "baseline": "top", "fontSize": 18},
                  "encoding": {"x": {"field": "t", "type": "quantitative"}, "y": {"field": "v", "type": "quantitative"}, "text": {"field": "label"}}
                }
              ]
            }
          ]
        }
      ]
    },
    {
      "spacing": 0,
      "hconcat": [
        {
          "width": 7, "height": 1,
          "data": {"values": []},
          "mark": "point"
        },
        {
          "width": 695, "height": 295,
          "title": {"text": "(b)", "anchor": "start", "frame": "group", "fontSize": 22, "baseline": "alphabetic", "offset": -29, "dx": -75},
          "data": {"name": "bars"},
          "encoding": {
            "xOffset": {"field": "s", "type": "nominal", "sort": ["10 µM CCh only", "CCh + antagonist"], "scale": {"paddingInner": 0.18, "paddingOuter": 0.24}}
          },
          "layer": [
            {
              "mark": {"type": "bar", "stroke": "#1a1a1a", "strokeWidth": 2.5},
              "encoding": {
                "x": {"field": "g", "type": "nominal", "sort": null, "scale": {"paddingInner": 0, "paddingOuter": 0},
                  "axis": {"orient": "bottom", "title": null, "labelExpr": "split(datum.value, '|')[0]", "labelAngle": 0, "labelFontSize": 20, "labelPadding": 8, "ticks": false, "tickSize": 0, "domain": true, "domainWidth": 3, "domainColor": "#1a1a1a", "grid": false, "labelOverlap": false}},
                "y": {"field": "m", "type": "quantitative", "scale": {"domain": [0, 4]},
                  "axis": {"title": "ADP amplitude (mV)", "titleFontSize": 28, "titleFontWeight": "normal", "titlePadding": 12, "titleY": 136, "values": [0, 1, 2, 3, 4], "labelFontSize": 20, "labelPadding": 7, "tickSize": 9, "tickWidth": 2.5, "tickColor": "#1a1a1a", "domainWidth": 3, "domainColor": "#1a1a1a", "grid": false}},
                "color": {"field": "s", "type": "nominal", "scale": {"domain": ["10 µM CCh only", "CCh + antagonist"], "range": ["#ffffff", "#8e8e8e"]},
                  "legend": {"orient": "none", "legendX": 91, "legendY": 4, "title": null, "symbolType": "square", "symbolSize": 576, "symbolStrokeColor": "#1a1a1a", "symbolStrokeWidth": 2.5, "symbolOpacity": 1, "labelFontSize": 18, "labelOffset": 7, "rowPadding": -5, "padding": 0}}
              }
            },
            {
              "mark": {"type": "rule", "strokeWidth": 2.5, "color": "#1a1a1a"},
              "encoding": {
                "x": {"field": "g", "type": "nominal", "sort": null,
                  "axis": {"orient": "bottom", "title": null, "labelExpr": "split(datum.value, '|')[1]", "labelAngle": 0, "labelFontSize": 14.5, "labelPadding": 30, "ticks": false, "tickSize": 0, "domain": false, "grid": false, "labelOverlap": false}},
                "y": {"field": "lo", "type": "quantitative",
                  "axis": {"title": "ADP amplitude (mV)", "titleFontSize": 28, "titleFontWeight": "normal", "titlePadding": 12, "titleY": 136, "values": [0, 1, 2, 3, 4], "labelFontSize": 20, "labelPadding": 7, "tickSize": 9, "tickWidth": 2.5, "tickColor": "#1a1a1a", "domainWidth": 3, "domainColor": "#1a1a1a", "grid": false}},
                "y2": {"field": "hi"}
              }
            },
            {
              "mark": {"type": "tick", "orient": "horizontal", "thickness": 2.5, "size": 17, "color": "#1a1a1a", "opacity": 1},
              "encoding": {
                "x": {"field": "g", "type": "nominal", "sort": null,
                  "axis": {"orient": "bottom", "title": null, "labelExpr": "split(datum.value, '|')[2]", "labelAngle": 0, "labelFontSize": 18, "labelPadding": 47, "ticks": false, "tickSize": 0, "domain": false, "grid": false, "labelOverlap": false}},
                "y": {"field": "lo", "type": "quantitative",
                  "axis": {"title": "ADP amplitude (mV)", "titleFontSize": 28, "titleFontWeight": "normal", "titlePadding": 12, "titleY": 136, "values": [0, 1, 2, 3, 4], "labelFontSize": 20, "labelPadding": 7, "tickSize": 9, "tickWidth": 2.5, "tickColor": "#1a1a1a", "domainWidth": 3, "domainColor": "#1a1a1a", "grid": false}}
              }
            },
            {
              "mark": {"type": "tick", "orient": "horizontal", "thickness": 2.5, "size": 17, "color": "#1a1a1a", "opacity": 1},
              "encoding": {
                "x": {"field": "g", "type": "nominal", "sort": null, "axis": null},
                "y": {"field": "hi", "type": "quantitative",
                  "axis": {"title": "ADP amplitude (mV)", "titleFontSize": 28, "titleFontWeight": "normal", "titlePadding": 12, "titleY": 136, "values": [0, 1, 2, 3, 4], "labelFontSize": 20, "labelPadding": 7, "tickSize": 9, "tickWidth": 2.5, "tickColor": "#1a1a1a", "domainWidth": 3, "domainColor": "#1a1a1a", "grid": false}}
              }
            },
            {
              "transform": [{"filter": "datum.sig === '*'"}],
              "mark": {"type": "text", "fontSize": 28, "baseline": "alphabetic", "dy": -6, "color": "#000"},
              "encoding": {
                "x": {"field": "g", "type": "nominal", "sort": null, "axis": null},
                "y": {"field": "hi", "type": "quantitative",
                  "axis": {"title": "ADP amplitude (mV)", "titleFontSize": 28, "titleFontWeight": "normal", "titlePadding": 12, "titleY": 136, "values": [0, 1, 2, 3, 4], "labelFontSize": 20, "labelPadding": 7, "tickSize": 9, "tickWidth": 2.5, "tickColor": "#1a1a1a", "domainWidth": 3, "domainColor": "#1a1a1a", "grid": false}},
                "text": {"field": "sig"}
              }
            }
          ],
          "resolve": {"axis": {"x": "independent"}}
        }
      ]
    }
  ]
}
